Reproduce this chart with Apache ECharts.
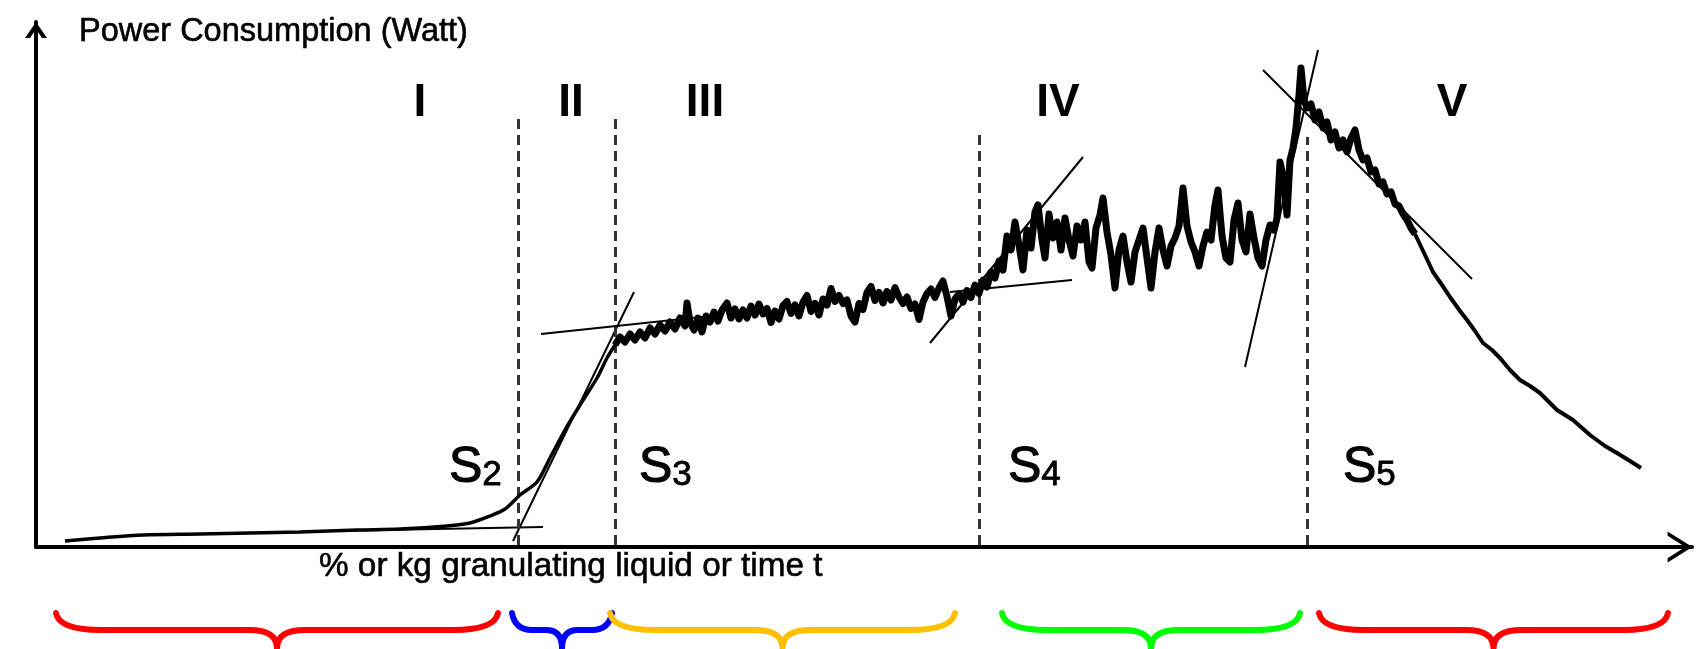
<!DOCTYPE html>
<html>
<head>
<meta charset="utf-8">
<script src="https://cdn.jsdelivr.net/npm/echarts@6/dist/echarts.min.js"></script>
<style>
html, body { margin: 0; padding: 0; background: #fff; }
#chart { width: 1698px; height: 649px; }
</style>
</head>
<body>
<div id="chart"></div>
<script>
// x: granulating liquid / time (arbitrary units), y: power (arbitrary units)
var risePoints = [[2.9,1.2],[6.4,1.8],[10.7,2.4],[16.4,2.6],[21.4,2.8],[26.4,3.0],[32.1,3.4],[36.4,3.6],[41.1,4.2],[43.4,4.8],[45.4,6.2],[46.9,7.6],[48.4,10.4],[50.1,13.0],[51.4,17.8],[52.9,23.4],[54.4,28.4],[56.1,33.8],[57.1,37.8],[57.9,40.4]]

var noisyPoints = [[57.9,40.4],[58.4,42.0],[58.9,41.0],[59.4,42.6],[59.9,41.4],[60.4,43.0],[60.9,41.8],[61.4,43.8],[61.9,42.6],[62.4,44.4],[62.9,43.2],[63.4,45.0],[63.9,43.6],[64.4,45.8],[64.9,44.2],[65.1,48.8],[65.4,45.0],[65.8,43.4],[66.2,45.8],[66.6,43.0],[67.0,46.2],[67.4,45.0],[67.8,47.0],[68.2,45.2],[68.6,47.4],[69.1,48.8],[69.5,45.8],[69.9,47.6],[70.3,45.6],[70.7,47.4],[71.1,45.8],[71.5,48.2],[71.9,46.4],[72.3,48.6],[72.7,46.6],[73.1,47.7],[73.5,44.9],[73.9,47.2],[74.3,45.6],[74.7,48.3],[75.1,49.1],[75.5,46.7],[75.9,48.4],[76.3,46.2],[76.7,49.0],[77.1,50.3],[77.5,47.1],[77.9,48.7],[78.3,46.4],[78.7,49.6],[79.1,48.4],[79.5,51.7],[79.9,49.1],[80.3,50.3],[80.7,48.7],[81.1,49.4],[81.5,46.2],[81.9,45.0],[82.3,48.7],[82.7,47.5],[83.1,50.9],[83.5,52.1],[83.9,49.3],[84.3,50.9],[84.7,48.8],[85.1,51.1],[85.5,49.4],[85.9,51.9],[86.3,50.0],[86.7,48.7],[87.1,50.0],[87.5,47.7],[87.9,48.6],[88.3,45.5],[88.7,49.0],[89.1,50.7],[89.5,51.6],[89.9,49.9],[90.3,51.8],[90.7,53.2],[91.1,50.1],[91.5,46.2],[91.9,49.6],[92.3,50.6],[92.7,49.0],[93.1,51.3],[93.5,49.9],[93.9,52.4],[94.3,50.7],[94.7,53.4],[95.1,52.0],[95.5,55.0],[95.9,53.8],[96.3,57.2],
  [96.7,55.4],[97.1,62.2],[97.5,59.4],[97.9,65.0],[98.3,60.4],[98.7,55.4],[99.1,63.4],[99.5,59.8],[99.9,67.0],[100.2,68.4],[100.6,61.4],[100.9,57.8],[101.3,66.6],[101.7,61.8],[102.1,65.0],[102.5,59.4],[102.9,65.8],[103.3,61.4],[103.7,58.2],[104.1,64.2],[104.5,61.4],[104.9,65.0],[105.3,57.0],[105.6,55.8],[106.0,63.8],[106.4,66.4],[106.7,69.8],[107.1,63.0],[107.5,58.4],[107.9,51.8],[108.3,59.4],[108.7,62.2],[109.1,57.0],[109.5,53.0],[109.9,59.0],[110.3,61.4],[110.7,63.8],[111.1,57.8],[111.5,51.8],[111.9,59.0],[112.3,63.8],[112.7,59.4],[113.1,56.2],[113.5,60.2],[113.9,61.8],[114.3,64.2],[114.7,71.8],[115.1,64.2],[115.5,61.0],[115.9,59.0],[116.3,56.2],[116.7,60.2],[117.1,63.0],[117.5,61.4],[117.9,68.4],[118.2,71.4],[118.6,62.2],[119.0,57.8],[119.4,57.0],[119.8,65.4],[120.2,68.8],[120.6,61.4],[121.0,59.0],[121.4,66.6],[121.8,61.8],[122.2,57.8],[122.6,56.2],[123.0,61.4],[123.4,64.4],[123.8,63.4],[124.1,65.8],[124.4,77.0],[124.8,73.4],[125.1,66.4],[125.4,77.4],[125.7,79.8],[126.0,83.8],[126.3,90.4],[126.5,95.8],
  [126.8,89.4],[127.1,87.8],[127.5,88.6],[127.9,85.4],[128.3,87.0],[128.7,83.8],[129.1,85.0],[129.5,81.4],[129.9,83.0],[130.3,79.8],[130.7,81.4],[131.1,79.0],[131.5,81.8],[131.9,83.4],[132.3,79.4],[132.7,77.4],[133.1,77.8],[133.5,75.0],[133.9,75.4],[134.3,72.6],[134.7,73.0],[135.1,70.6],[135.5,71.0],[135.9,68.6],[136.3,68.2],[136.7,66.6],[137.1,65.4],[137.5,63.8],[137.9,62.6]]

var tailPoints = [[137.9,62.6],[138.9,58.4],[139.7,55.0],[140.6,52.4],[141.4,50.0],[142.4,47.2],[143.1,45.4],[143.9,43.2],[144.7,40.8],[145.6,39.4],[146.4,37.8],[147.4,35.4],[148.4,33.4],[149.4,32.2],[150.4,30.8],[152.1,27.4],[153.7,25.4],[155.4,22.4],[156.9,20.2],[158.1,18.8],[159.4,17.2],[160.5,15.8]]

// tangents drawn on the curve
var tangentLines = [
  [[29.4,3.2],[50.7,4.0]],
  [[47.7,1.2],[59.8,51.0]],
  [[50.5,42.6],[68.4,46.4]],
  [[89.4,40.8],[104.7,78.0]],
  [[91.4,51.0],[103.6,53.4]],
  [[120.9,36.0],[128.2,99.4]],
  [[122.7,95.4],[143.6,53.6]]
]

var boundaryX = [48.2, 57.9, 94.3, 127.1]
var boundaryTop = [86.0, 86.0, 82.4, 82.0]
var boundaryNames = ['2', '3', '4', '5']
var boundaryLabelX = [41.3, 60.3, 97.2, 130.7]
var boundaryLabelY = 16.0

var phaseNames = ['I', 'II', 'III', 'IV', 'V']
var phaseLabelX = [38.4, 53.5, 66.9, 102.2, 141.6]
var phaseLabelY = 88.8

var braceFrom = [2.0, 47.6, 57.4, 96.6, 128.3]
var braceTo = [46.2, 57.6, 91.9, 126.4, 163.2]
var braceColors = ['#ff0000', '#0000ff', '#ffc000', '#00ff00', '#ff0000']

var FONT = 'Liberation Sans'

var chart = echarts.init(document.getElementById('chart'))

var boundaryLines = boundaryX.map(function (x, i) {
  return {coords: [[x, 0.4], [x, boundaryTop[i]]]}
})

var axisText = {fontFamily: FONT, fontWeight: 'normal', color: '#000', lineHeight: 38, textBorderColor: '#000', textBorderWidth: 0.6}

chart.setOption({
  animation: false,
  backgroundColor: '#fff',
  title: [
    {text: 'Power Consumption (Watt)', left: 79, top: 13, padding: 0, textStyle: Object.assign({fontSize: 32.5}, axisText)},
    {text: '% or kg granulating liquid or time t', left: 319, top: 548, padding: 0, textStyle: Object.assign({fontSize: 33.3}, axisText)}
  ],
  grid: {left: 36, right: 6, top: 22, bottom: 102},
  xAxis: {
    type: 'value', min: 0, max: 165.6,
    axisLine: {
      onZero: false,
      lineStyle: {color: '#000', width: 4},
      symbol: ['none', 'path://M0,24 L15,0 L30,24 L26,24 L15,7 L4,24 Z'],
      symbolSize: [31, 25],
      symbolOffset: [0, -12]
    },
    axisTick: {show: false},
    axisLabel: {show: false},
    splitLine: {show: false}
  },
  yAxis: {
    type: 'value', min: 0, max: 105,
    axisLine: {
      onZero: false,
      lineStyle: {color: '#000', width: 4},
      symbol: ['none', 'path://M0,16 L11,0 L22,16 L17,16 L11,7 L5,16 Z'],
      symbolSize: [22, 16],
      symbolOffset: [0, -8]
    },
    axisTick: {show: false},
    axisLabel: {show: false},
    splitLine: {show: false}
  },
  series: [
    {
      name: 'rise', type: 'line', data: risePoints, showSymbol: false, smooth: 0.3, clip: false,
      lineStyle: {color: '#000', width: 3.5}
    },
    {
      name: 'plateau', type: 'line', data: noisyPoints, showSymbol: false, clip: false,
      lineStyle: {color: '#000', width: 7, join: 'round'}
    },
    {
      name: 'decay', type: 'line', data: tailPoints, showSymbol: false, clip: false,
      lineStyle: {color: '#000', width: 4, join: 'round'}
    },
    {
      name: 'tangents', type: 'lines', coordinateSystem: 'cartesian2d',
      data: tangentLines.map(function (c) { return {coords: c} }),
      lineStyle: {color: '#000', width: 2, opacity: 1}
    },
    {
      name: 'boundaries', type: 'lines', coordinateSystem: 'cartesian2d',
      data: boundaryLines,
      lineStyle: {color: '#333', width: 3, type: [10, 6], opacity: 1}
    },
    {
      name: 'phases', type: 'scatter', symbolSize: 0,
      itemStyle: {opacity: 1},
      data: phaseNames.map(function (n, i) { return {name: n, value: [phaseLabelX[i], phaseLabelY]} }),
      label: {
        show: true, position: 'inside', formatter: '{b}', opacity: 1,
        fontFamily: FONT, fontSize: 46, fontWeight: 'bold', color: '#000'
      }
    },
    {
      name: 'points', type: 'scatter', symbolSize: 0,
      itemStyle: {opacity: 1},
      data: boundaryNames.map(function (n, i) { return {name: n, value: [boundaryLabelX[i], boundaryLabelY]} }),
      label: {
        show: true, position: 'right', distance: 0, opacity: 1,
        formatter: function (p) { return '{s|S}{sub|' + p.name + '}' },
        rich: {
          s: {fontFamily: FONT, fontSize: 50, lineHeight: 52, verticalAlign: 'bottom', color: '#000', textBorderColor: '#000', textBorderWidth: 1.2},
          sub: {fontFamily: FONT, fontSize: 35, lineHeight: 35, verticalAlign: 'bottom', color: '#000', textBorderColor: '#000', textBorderWidth: 0.8}
        }
      }
    },
    {
      name: 'braces', type: 'custom', clip: false, silent: true,
      data: braceFrom.map(function (f, i) { return [f, braceTo[i], i] }),
      renderItem: function (params, api) {
        var a = api.coord([api.value(0), 0])
        var b = api.coord([api.value(1), 0])
        var L = a[0], R = b[0], C = (L + R) / 2
        var top = a[1] + 66, flat = a[1] + 83, tip = a[1] + 101
        var w = R - L
        var r = Math.min(45, w * 0.2)
        var t = Math.min(28, w * 0.16)
        var d = 'M' + L + ',' + top +
          ' Q' + (L + 3) + ',' + flat + ' ' + (L + r) + ',' + flat +
          ' L' + (C - t) + ',' + flat +
          ' Q' + C + ',' + flat + ' ' + C + ',' + tip +
          ' Q' + C + ',' + flat + ' ' + (C + t) + ',' + flat +
          ' L' + (R - r) + ',' + flat +
          ' Q' + (R - 3) + ',' + flat + ' ' + R + ',' + top
        return {
          type: 'path',
          shape: {pathData: d},
          style: {stroke: braceColors[api.value(2)], fill: 'none', lineWidth: 6, lineJoin: 'round', lineCap: 'round'}
        }
      }
    }
  ]
})
</script>
</body>
</html>
